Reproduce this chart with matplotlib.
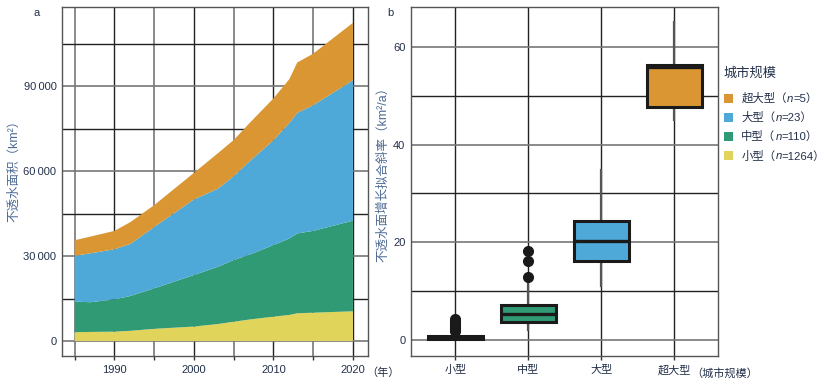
import matplotlib
matplotlib.use("Agg")
from matplotlib import pyplot as plt
from matplotlib.patches import Rectangle
from matplotlib.ticker import FuncFormatter
from matplotlib.offsetbox import TextArea, DrawingArea, HPacker, VPacker, AnchoredOffsetbox

plt.rcParams['font.family'] = ['Liberation Sans', 'Noto Sans CJK SC', 'DejaVu Sans']

# panel a: impervious area by city size (km2), stacked layers
years = [1985, 1987, 1990, 1992, 1995, 2000, 2003, 2005, 2007, 2010, 2012, 2013, 2015, 2020]
area_small = [3100, 3200, 3300, 3600, 4300, 5100, 6000, 6800, 7600, 8600, 9200, 9800, 10000, 10500]
area_medium = [10800, 10500, 11400, 12300, 14300, 18200, 20200, 21800, 22900, 25300, 27000, 28200, 28900, 32000]
area_large = [16200, 17300, 17700, 18400, 21700, 26700, 27600, 29600, 33000, 37000, 40800, 42600, 44400, 49600]
area_super = [5500, 5900, 6500, 7700, 7700, 9400, 12500, 12800, 13500, 14800, 15500, 17800, 18200, 20300]

# panel b: growth slope box stats (km2/a)
size_labels = ['小型', '中型', '大型', '超大型']
q1 = [0.2, 3.8, 16.3, 47.7]
med = [0.45, 5.3, 20.3, 55.8]
q3 = [0.8, 7.2, 24.4, 56.3]
whis_lo = [0.0, 2.1, 11.2, 45.1]
whis_hi = [1.6, 12.0, 34.9, 65.1]
fliers = [[1.9, 2.2, 2.5, 2.8, 3.1, 3.4, 3.7, 4.0, 4.3],
          [12.9, 16.3, 18.2],
          [],
          []]
legend_names = ['超大型', '大型', '中型', '小型']
legend_n = [5, 23, 110, 1264]

colours = {'small': '#E1D45A', 'medium': '#2F9A74', 'large': '#4EA9D8', 'super': '#D99632'}
tick_colour = '#23304a'
label_colour = '#4d6a94'

fig = plt.figure(figsize=(8.24, 3.85), dpi=100)
ax_a = fig.add_axes([62 / 824, 1 - 356 / 385, 306 / 824, 349 / 385])
ax_b = fig.add_axes([411 / 824, 1 - 356 / 385, 307 / 824, 349 / 385])


def style_axes(ax):
    for s in ax.spines.values():
        s.set_color('#555555')
        s.set_linewidth(1.0)
    ax.tick_params(which='both', direction='out', length=3, width=1.0,
                   colors='#333333', labelcolor=tick_colour, labelsize=8)
    ax.tick_params(axis='y', which='both', length=0, pad=4)
    ax.set_axisbelow(True)


# ---- panel a
ax_a.stackplot(years, area_small, area_medium, area_large, area_super,
               colors=[colours['small'], colours['medium'], colours['large'], colours['super']],
               linewidth=0)
ax_a.set_xlim(1983.4, 2021.9)
ax_a.set_ylim(-5300, 118000)
ax_a.set_xticks([1990, 2000, 2010, 2020])
ax_a.set_xticks([1985, 1995, 2005, 2015], minor=True)
ax_a.set_yticks([0, 30000, 60000, 90000])
ax_a.set_yticks([15000, 45000, 75000, 105000], minor=True)
ax_a.yaxis.set_major_formatter(FuncFormatter(
    lambda v, p: '0' if v == 0 else f'{int(v) // 1000}\u2009000'))
ax_a.grid(axis='x', which='major', color='#222222', linewidth=1.0)
ax_a.grid(axis='x', which='minor', color='#777777', linewidth=1.2)
ax_a.grid(axis='y', which='major', color='#777777', linewidth=1.2)
ax_a.grid(axis='y', which='minor', color='#222222', linewidth=1.0)
style_axes(ax_a)
ax_a.set_ylabel('不透水面积（km²）', color=label_colour, fontsize=9)
ax_a.yaxis.set_label_coords(-0.137, 0.54)

# ---- panel b
stats = []
for i in range(len(size_labels)):
    stats.append({'q1': q1[i], 'med': med[i], 'q3': q3[i],
                  'whislo': whis_lo[i], 'whishi': whis_hi[i],
                  'fliers': fliers[i], 'label': size_labels[i]})
box_colours = [colours['small'], colours['medium'], colours['large'], colours['super']]
bp = ax_b.bxp(stats, positions=range(4), widths=0.75, patch_artist=True, showcaps=False,
              boxprops=dict(edgecolor='#1a1a1a', linewidth=2.2),
              medianprops=dict(color='#1a1a1a', linewidth=2.4),
              whiskerprops=dict(color='#555555', linewidth=1.6),
              flierprops=dict(marker='o', markerfacecolor='#1a1a1a', markeredgecolor='#1a1a1a',
                              markersize=7))
for patch, c in zip(bp['boxes'], box_colours):
    patch.set_facecolor(c)
    patch.set_zorder(3)
for m in bp['medians']:
    m.set_zorder(4)
ax_b.set_xlim(-0.61, 3.6)
ax_b.set_ylim(-3.2, 68.1)
ax_b.set_yticks([0, 20, 40, 60])
ax_b.set_yticks([10, 30, 50], minor=True)
ax_b.grid(axis='x', which='major', color='#222222', linewidth=1.0)
ax_b.grid(axis='y', which='major', color='#777777', linewidth=1.2)
ax_b.grid(axis='y', which='minor', color='#222222', linewidth=1.0)
style_axes(ax_b)
ax_b.set_ylabel('不透水面增长拟合斜率（km²/a）', color=label_colour, fontsize=9)
ax_b.yaxis.set_label_coords(-0.072, 0.53)

# legend built from packed boxes so that "n" can be italic
txt = dict(fontsize=8.2, color=tick_colour)
rows = []
for key, name, n in zip(['super', 'large', 'medium', 'small'], legend_names, legend_n):
    da = DrawingArea(6.5, 6.5)
    da.add_artist(Rectangle((0, 0), 6.5, 6.5, facecolor=colours[key], edgecolor='none'))
    words = HPacker(children=[TextArea(name + '（', textprops=txt),
                              TextArea('n', textprops=dict(txt, style='italic')),
                              TextArea(f'={n}）', textprops=txt)], sep=0, pad=0, align='baseline')
    rows.append(HPacker(children=[da, words], sep=6, pad=0, align='center'))
title = TextArea('城市规模', textprops=dict(fontsize=9.5, color=tick_colour))
items = VPacker(children=rows, sep=5.8, pad=0, align='left')
legend_box = VPacker(children=[title, items], sep=9.5, pad=0, align='left')
anchored = AnchoredOffsetbox(loc='upper left', child=legend_box, pad=0, borderpad=0,
                             bbox_to_anchor=(724 / 824, 1 - 67 / 385),
                             bbox_transform=fig.transFigure, frameon=False)
fig.add_artist(anchored)

fig.text(366 / 824, 1 - 373 / 385, '（年）', ha='left', va='center', fontsize=8, color=tick_colour)
fig.text(691 / 824, 1 - 373 / 385, '（城市规模）', ha='left', va='center', fontsize=8, color=tick_colour)
fig.text(37 / 824, 1 - 13 / 385, 'a', ha='center', va='center', fontsize=8, color=tick_colour)
fig.text(390 / 824, 1 - 13 / 385, 'b', ha='center', va='center', fontsize=8, color=tick_colour)

plt.savefig('out.png', dpi=100)
